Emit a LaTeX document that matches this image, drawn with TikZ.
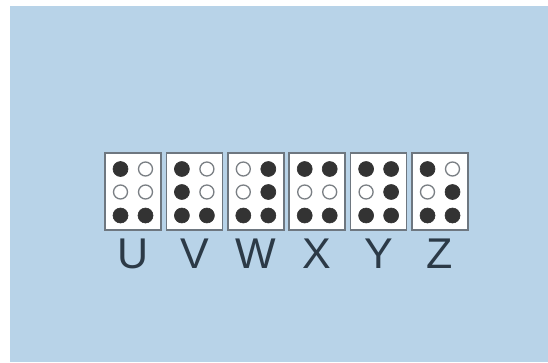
\documentclass[tikz,border=0pt]{standalone}
\usepackage{fontspec}
\setmainfont{Liberation Sans}
\usetikzlibrary{positioning}
\definecolor{paleblue}{HTML}{B8D3E8}
\definecolor{frame}{HTML}{6E7780}
\definecolor{ink}{HTML}{333333}
\definecolor{ring}{HTML}{7A7F84}
\definecolor{slate}{HTML}{2C3A47}
\tikzset{
  cellbox/.style={rectangle,draw=frame,line width=1.5pt,fill=white,
    minimum width=56pt,minimum height=77pt,inner sep=0pt},
  fulldot/.style={circle,draw=ink,fill=ink,line width=0.6pt,
    minimum size=15pt,inner sep=0pt},
  opendot/.style={circle,draw=ring,fill=white,line width=1.3pt,
    minimum size=14pt,inner sep=0pt},
  letter/.style={anchor=base,text=slate,font=\fontsize{43}{43}\selectfont,inner sep=0pt}
}
\begin{document}
\begin{tikzpicture}[x=1pt,y=-1pt]
  \useasboundingbox (0,0) rectangle (548,362);
  \fill[paleblue] (10,6) rectangle (548,362);
  % braille cells, dots listed row by row (left, right)
  \foreach \ltr/\a/\b/\c/\d/\e/\f [count=\i from 0] in {
      U/fulldot/opendot/opendot/opendot/fulldot/fulldot,
      V/fulldot/opendot/fulldot/opendot/fulldot/fulldot,
      W/opendot/fulldot/opendot/fulldot/fulldot/fulldot,
      X/fulldot/fulldot/opendot/opendot/fulldot/fulldot,
      Y/fulldot/fulldot/opendot/fulldot/fulldot/fulldot,
      Z/fulldot/opendot/opendot/fulldot/fulldot/fulldot}{
    \node[cellbox] (cell\ltr) at (133+61.4*\i,191.5) {};
    \node[\a] (d1\ltr) at ([shift={(-12.5,-22.5)}]cell\ltr.center) {};
    \node[\b] (d4\ltr) at ([shift={(12.5,-22.5)}]cell\ltr.center) {};
    \node[\c] (d2\ltr) at ([shift={(-12.5,0.5)}]cell\ltr.center) {};
    \node[\d] (d5\ltr) at ([shift={(12.5,0.5)}]cell\ltr.center) {};
    \node[\e] (d3\ltr) at ([shift={(-12.5,24)}]cell\ltr.center) {};
    \node[\f] (d6\ltr) at ([shift={(12.5,24)}]cell\ltr.center) {};
    \node[letter] (lbl\ltr) at (133+61.4*\i,268) {\ltr};
  }
\end{tikzpicture}
\end{document}
